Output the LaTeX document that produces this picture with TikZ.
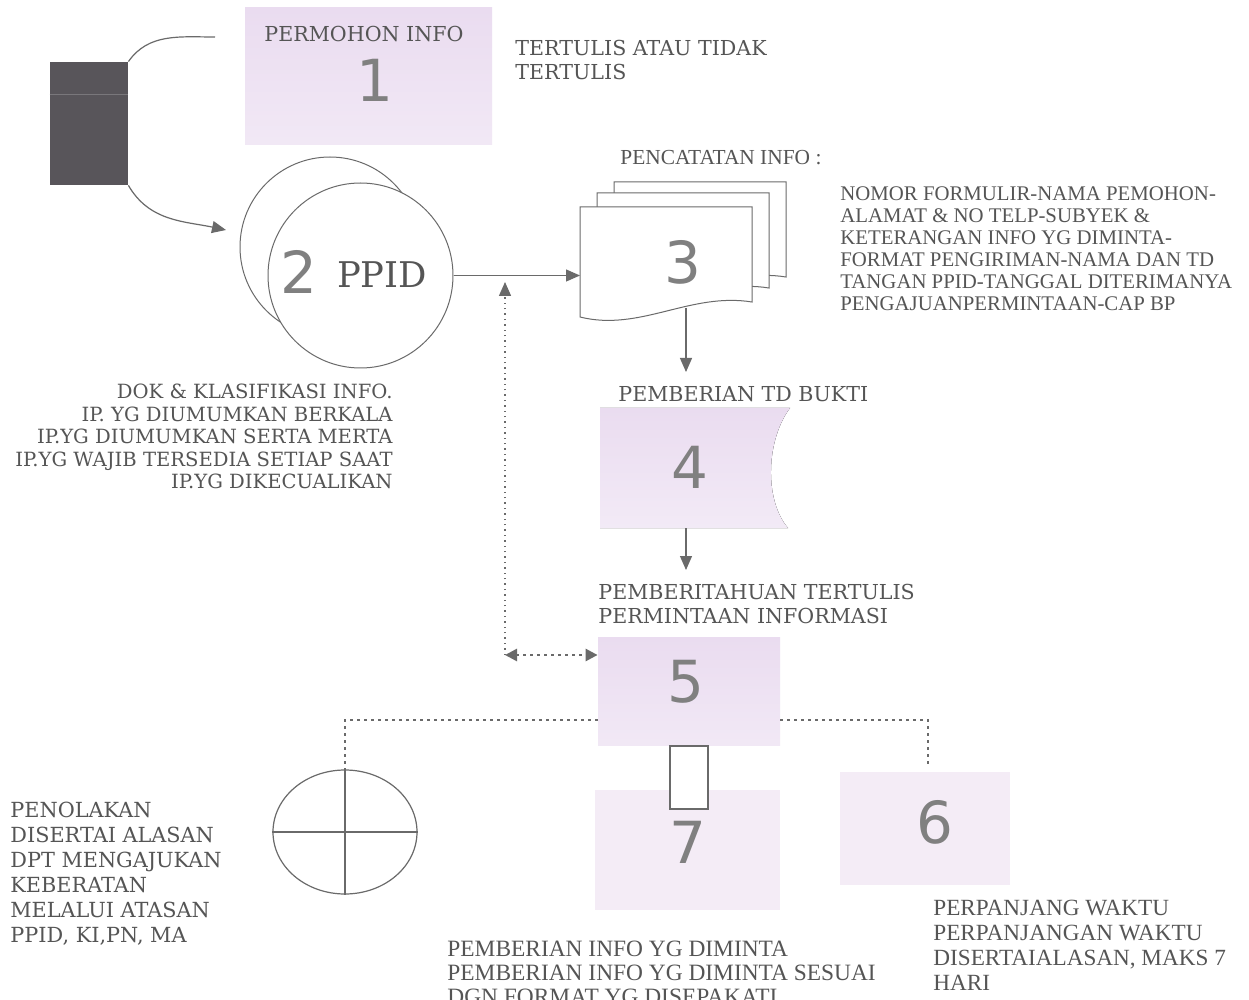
\documentclass[tikz,border=0pt]{standalone}
\usepackage{fontspec}
\setmainfont{DejaVu Serif}
\newfontfamily\narrowserif{Liberation Serif}
\newfontfamily\digitfont{DejaVu Sans}
\usetikzlibrary{arrows.meta, shapes.geometric}
\definecolor{inkgray}{HTML}{555555}
\definecolor{linegray}{HTML}{6A6A6A}
\definecolor{darkbox}{HTML}{58555A}
\definecolor{lilac}{HTML}{EADCF0}
\definecolor{lilacpale}{HTML}{F4ECF6}
\tikzset{
  flow/.style={-{Triangle[length=7pt, width=6pt]}, line width=0.6pt, color=linegray},
  link/.style={line width=0.6pt, color=linegray},
  dots/.style={line width=1.3pt, color=linegray, dash pattern=on 1.3pt off 2.2pt},
  finedots/.style={line width=0.7pt, color=linegray, dash pattern=on 0.7pt off 2pt},
  lilacbox/.style={draw=none, top color=lilac, bottom color=lilac!65!white, inner sep=0pt},
  palebox/.style={draw=none, fill=lilacpale, inner sep=0pt},
  docsheet/.style={fill=white, draw=linegray, line width=0.5pt},
  num/.style={font=\digitfont\fontsize{29}{30}\selectfont, text=inkgray!75},
  note/.style={font=\fontsize{10.3}{12}\selectfont, text=inkgray, align=left, inner sep=0pt, anchor=north west},
  narrownote/.style={note, font=\narrowserif\fontsize{10.7}{11}\selectfont}
}
\begin{document}
\begin{tikzpicture}[x=0.5pt, y=-0.5pt]
\useasboundingbox (0,0) rectangle (1249,1000);
\clip (0,0) rectangle (1249,1000);
\fill[white] (0,0) rectangle (1249,1000);

\node[fill=darkbox, minimum width=39pt, minimum height=61.5pt, inner sep=0pt] (src) at (89,123.5) {};
\draw[darkbox!80!white, line width=0.3pt] ([yshift=-16.5pt]src.north west) -- ([yshift=-16.5pt]src.north east);
\node[lilacbox, minimum width=123.5pt, minimum height=68.5pt] (box1) at (368.5,76.5) {};
\node[note, anchor=north] (reqlbl) at (364,26) {PERMOHON INFO};
\node[num] (n1) at (375,80) {1};
\node[note] (written) at (515,40) {TERTULIS ATAU TIDAK\\TERTULIS};
\coordinate (reqend) at (215,37);
\coordinate (ppidin) at (226,230);
\draw[link] (src.north east) to[out=55, in=180] (reqend);
\draw[flow] (src.south east) to[out=-60, in=168] (ppidin);

\node[circle, draw=linegray, line width=0.5pt, minimum size=90pt] (ppidback) at (330,247) {};
\node[circle, draw=linegray, line width=0.5pt, fill=white, minimum size=92.5pt] (ppid) at (360.5,275.5) {};
\node[num] (n2) at (299,272) {2};
\node[text=inkgray, font=\fontsize{17.7}{18}\selectfont] (ppidlbl) at (382,275) {PPID};

\foreach \dx/\dy in {34/-25, 17/-14, 0/0}
  \filldraw[docsheet] (580+\dx,207+\dy) -- (752+\dx,207+\dy) -- (752+\dx,302+\dy)
    .. controls (690+\dx,292+\dy) and (640+\dx,332+\dy) .. (580+\dx,317+\dy) -- cycle;
\node[num] (n3) at (683,262) {3};
\coordinate (doc3w) at (580,275.5);
\coordinate (doc3s) at (686,308);
\draw[flow] (ppid.east) -- (doc3w);
\node[narrownote] (loglbl) at (620,150) {PENCATATAN INFO :};
\node[narrownote, font=\narrowserif\fontsize{10.4}{11}\selectfont] (logitems) at (840,186)
  {NOMOR FORMULIR-NAMA PEMOHON-\\ALAMAT \& NO TELP-SUBYEK \&\\KETERANGAN INFO YG DIMINTA-\\FORMAT PENGIRIMAN-NAMA DAN TD\\TANGAN PPID-TANGGAL DITERIMANYA\\PENGAJUANPERMINTAAN-CAP BP};

\node[note, anchor=north east, align=right, font=\fontsize{9.8}{11.25}\selectfont] (classify) at (393,384)
  {DOK \& KLASIFIKASI INFO.\\IP. YG DIUMUMKAN BERKALA\\IP.YG DIUMUMKAN SERTA MERTA\\IP.YG WAJIB TERSEDIA SETIAP SAAT\\IP.YG DIKECUALIKAN};

\node[note] (receipt) at (618,386) {PEMBERIAN TD BUKTI};
\draw[flow, shorten >=7pt] (doc3s) -- (doc3s |- receipt.north);
\fill[top color=lilac, bottom color=lilac!60!white] (600,408) -- (790,408)
  .. controls (766,440) and (764,500) .. (788,528) -- (600,528) -- cycle;
\node[num] (n4) at (690,467) {4};
\coordinate (box4s) at (686,528);
\node[note] (notice) at (598,584) {PEMBERITAHUAN TERTULIS\\PERMINTAAN INFORMASI};
\draw[flow, shorten >=7pt] (box4s) -- (box4s |- notice.north);

\node[lilacbox, minimum width=91pt, minimum height=54pt] (box5) at (689,691) {};
\node[num] (n5) at (686,682) {5};
\coordinate (corner) at (505,655);
\coordinate (tap) at (505,282);
\draw[finedots, -{Triangle[length=7pt, width=6pt]}] (corner) -- (tap);
\draw[dots, {Triangle[length=6pt, width=6pt]}-{Triangle[length=6pt, width=6pt]}] (corner) -- (corner -| box5.west);

\node[ellipse, draw=linegray, line width=0.6pt, minimum width=72pt, minimum height=62pt, inner sep=0pt] (reject) at (345,832) {};
\draw[link] (reject.north) -- (reject.south);
\draw[link] (reject.west) -- (reject.east);
\draw[dots] ([yshift=-14.5pt]box5.west) -| (reject.north);
\node[note, font=\fontsize{10.4}{12.5}\selectfont] (rejectlbl) at (10,802)
  {PENOLAKAN\\DISERTAI ALASAN\\DPT MENGAJUKAN\\KEBERATAN\\MELALUI ATASAN\\PPID, KI,PN, MA};

\node[palebox, minimum width=92.5pt, minimum height=60pt] (box7) at (687.5,850) {};
\node[draw=linegray, fill=white, line width=0.6pt, minimum width=19pt, minimum height=31.5pt, inner sep=0pt, anchor=north] (stub) at (box5.south) {};
\node[num] (n7) at (688,842) {7};

\node[palebox, minimum width=85pt, minimum height=56.5pt] (box6) at (925,828.5) {};
\node[num] (n6) at (935,822) {6};
\draw[dots] ([yshift=-14.5pt]box5.east) -| ([xshift=1.5pt, yshift=2.5pt]box6.north);
\node[narrownote, font=\narrowserif\fontsize{11.6}{12.5}\selectfont] (extend) at (933,900)
  {PERPANJANG WAKTU\\PERPANJANGAN WAKTU\\DISERTAIALASAN, MAKS 7\\HARI};
\node[narrownote, font=\narrowserif\fontsize{11.7}{12}\selectfont] (grant) at (447,941)
  {PEMBERIAN INFO YG DIMINTA\\PEMBERIAN INFO YG DIMINTA SESUAI\\DGN FORMAT YG DISEPAKATI};
\end{tikzpicture}
\end{document}
